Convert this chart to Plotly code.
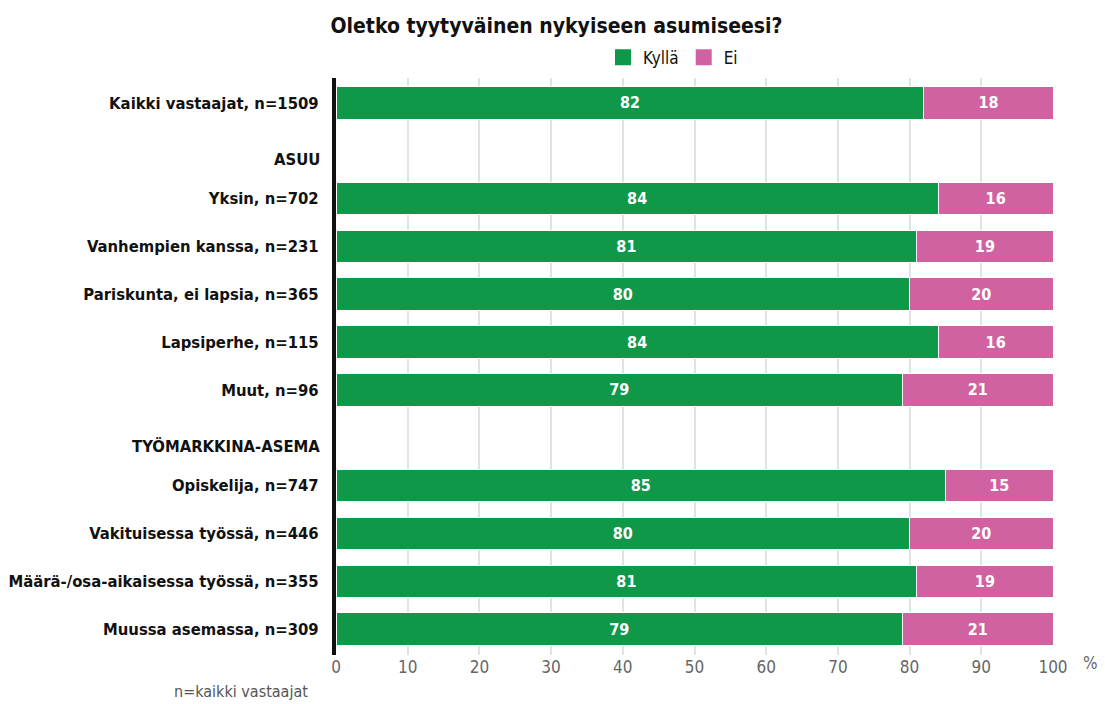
import plotly.graph_objects as go

categories = ["Kaikki vastaajat, n=1509", "ASUU", "Yksin, n=702", "Vanhempien kanssa, n=231",
              "Pariskunta, ei lapsia, n=365", "Lapsiperhe, n=115", "Muut, n=96",
              "TYÖMARKKINA-ASEMA", "Opiskelija, n=747", "Vakituisessa työssä, n=446",
              "Määrä-/osa-aikaisessa työssä, n=355", "Muussa asemassa, n=309"]
headers = ["ASUU", "TYÖMARKKINA-ASEMA"]
kylla = [82, None, 84, 81, 80, 84, 79, None, 85, 80, 81, 79]
ei = [18, None, 16, 19, 20, 16, 21, None, 15, 20, 19, 21]
xticks = [0, 10, 20, 30, 40, 50, 60, 70, 80, 90, 100]

FONT = "DejaVu Sans Condensed, Liberation Sans Narrow, sans-serif"
GREEN = "#0F9848"
PINK = "#D062A2"

ypos = list(range(len(categories)))
bar_rows = [i for i, c in enumerate(categories) if c not in headers]

fig = go.Figure()
for name, vals, col in [("Kyllä", kylla, GREEN), ("Ei", ei, PINK)]:
    fig.add_trace(go.Bar(
        name=name, orientation="h", showlegend=False,
        y=[ypos[i] for i in bar_rows], x=[vals[i] for i in bar_rows],
        marker=dict(color=col, line=dict(color="white", width=1)),
        text=[vals[i] for i in bar_rows], texttemplate="<b>%{text}</b>",
        textposition="inside", insidetextanchor="middle",
        textfont=dict(color="white", size=16, family=FONT),
        hoverinfo="skip",
    ))
    # legend entries with larger square markers
    fig.add_trace(go.Scatter(
        name=name, x=[None], y=[None], mode="markers",
        marker=dict(symbol="square", size=17, color=col), showlegend=True,
        hoverinfo="skip",
    ))

for i, c in enumerate(categories):
    if c in headers:
        fig.add_annotation(x=0, xref="paper", y=ypos[i], yref="y", yshift=-9,
                           text=f"<b>{c}</b>", showarrow=False, xanchor="right",
                           xshift=-14, font=dict(size=16.5, color="#111", family=FONT))

fig.add_annotation(x=1.0, xref="paper", y=0, yref="paper", yshift=-8, xshift=47,
                   yanchor="middle",
                   text="%", showarrow=False, font=dict(size=17, color="#666", family=FONT))
fig.add_annotation(x=0, xref="paper", y=0, yref="paper", yshift=-25, xshift=-26,
                   xanchor="right", yanchor="top",
                   text="n=kaikki vastaajat", showarrow=False,
                   font=dict(size=16, color="#555", family=FONT))

tickvals = [ypos[i] for i in bar_rows]
ticktext = [f"<b>{categories[i]}</b>" for i in bar_rows]

fig.update_layout(
    width=1097, height=696,
    barmode="stack", bargap=0.32,
    plot_bgcolor="white", paper_bgcolor="white",
    margin=dict(l=328, r=52, t=70, b=49, autoexpand=False),
    font=dict(family=FONT, size=17, color="#111"),
    title=dict(text="<b>Oletko tyytyväinen nykyiseen asumiseesi?</b>", x=0.5, xref="container",
               y=0.985, yanchor="top", font=dict(size=21, color="#111", family=FONT),
               automargin=False),
    legend=dict(orientation="h", x=0.47, xanchor="center", y=1.035, yanchor="middle",
                font=dict(size=17, color="#111", family=FONT), traceorder="normal",
                itemclick=False, itemwidth=30),
    xaxis=dict(range=[0, 100], tickvals=xticks, showgrid=True, gridcolor="#e2e2e2", gridwidth=2,
               zeroline=False, automargin=False,
               tickfont=dict(size=17, color="#666", family=FONT), fixedrange=True),
    yaxis=dict(range=[11.54, -0.52], tickvals=tickvals, ticktext=ticktext, showgrid=False,
               zeroline=False, showline=True, linecolor="#111", linewidth=4,
               ticks="", ticklabelstandoff=10, automargin=False,
               tickfont=dict(size=16.5, color="#111", family=FONT), fixedrange=True),
)

fig.write_html("out.html")
